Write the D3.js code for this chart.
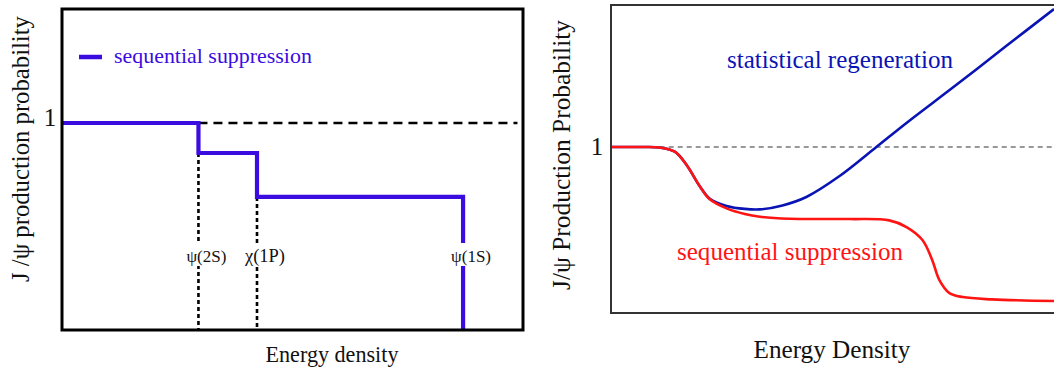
<!DOCTYPE html>
<html>
<head>
<meta charset="utf-8">
<script src="https://cdn.jsdelivr.net/npm/d3@7"></script>
<style>
  html, body { margin: 0; padding: 0; background: #fff; }
  svg { display: block; }
  text { font-family: "Liberation Serif", "Times New Roman", serif; }
</style>
</head>
<body>
<svg id="chart" width="1054" height="369"></svg>
<script>
// ---------- Left panel data (step model) ----------
const leftThresholds = [2.96, 4.23, 8.70];              // x positions of dissociation
const leftStateLabels = ["ψ(2S)", "χ(1P)", "ψ(1S)"];
const leftLevels = [1.0, 0.855, 0.643, 0.0];            // probability after each threshold
const leftYTick = [1];
const leftLegend = "sequential suppression";
const leftXTitle = "Energy density";
const leftYTitle = "J /ψ  production probability";

// ---------- Right panel data (smooth curves) ----------
const rightSeqX = [0, 0.65, 1.10, 1.44, 1.71, 2.00, 2.23, 2.61, 3.02, 3.36, 4.03, 5.38, 6.28, 6.67, 7.03, 7.25, 7.41, 7.64, 7.94, 8.60, 10.0];
const rightSeqY = [1.0, 1.0, 0.997, 0.972, 0.89, 0.765, 0.685, 0.630, 0.596, 0.580, 0.568, 0.566, 0.558, 0.518, 0.44, 0.32, 0.20, 0.12, 0.096, 0.082, 0.072];
const rightRegX = [0, 0.65, 1.10, 1.44, 1.71, 2.00, 2.23, 2.61, 3.02, 3.36, 3.87, 4.41, 5.16, 5.99, 6.67, 7.79, 8.92, 10.0];
const rightRegY = [1.0, 1.0, 0.997, 0.972, 0.89, 0.765, 0.688, 0.645, 0.627, 0.624, 0.648, 0.699, 0.825, 1.0, 1.145, 1.373, 1.608, 1.831];
const rightYTick = [1];
const rightRegLabel = "statistical regeneration";
const rightSeqLabel = "sequential suppression";
const rightXTitle = "Energy Density";
const rightYTitle = "J/ψ Production Probability";

const svg = d3.select("#chart");

// scale a text's font size so that its rendered width equals target
function fit(sel, target) {
  const s = +sel.attr("font-size");
  const w = sel.node().getComputedTextLength();
  sel.attr("font-size", (s * target / w).toFixed(2));
  return sel;
}

// ================= LEFT PANEL =================
const L = { x0: 62, x1: 523, y0: 9, y1: 330 };
const xL = d3.scaleLinear().domain([0, 10]).range([L.x0, L.x1]);
const yL = d3.scaleLinear().domain([0, 1]).range([L.y1, 123]);
const left = svg.append("g");

left.append("line")
  .attr("x1", xL(leftThresholds[0])).attr("x2", xL(9.88))
  .attr("y1", yL(1)).attr("y2", yL(1))
  .attr("stroke", "#000").attr("stroke-width", 2.6).attr("stroke-dasharray", "9,6");

leftThresholds.slice(0, 2).forEach((t, i) => {
  left.append("line")
    .attr("x1", xL(t)).attr("x2", xL(t))
    .attr("y1", yL(leftLevels[i + 1])).attr("y2", yL(0))
    .attr("stroke", "#000").attr("stroke-width", 2.6).attr("stroke-dasharray", "4,3");
});

const stepPts = [[0, leftLevels[0]]];
leftThresholds.forEach((t, i) => {
  stepPts.push([t, leftLevels[i]]);
  stepPts.push([t, leftLevels[i + 1]]);
});
left.append("path")
  .attr("d", d3.line().x(d => xL(d[0])).y(d => yL(d[1]))(stepPts))
  .attr("fill", "none").attr("stroke", "#3a0ce0").attr("stroke-width", 4.2)
  .attr("stroke-linejoin", "miter");

leftStateLabels.forEach((lab, i) => {
  const cx = xL(leftThresholds[i]) + 8;
  const g = left.append("g");
  const t = g.append("text").attr("x", cx).attr("y", 262)
    .attr("text-anchor", "middle").attr("font-size", 16).attr("fill", "#111").text(lab);
  fit(t, 40);
  const bb = t.node().getBBox();
  g.insert("rect", "text").attr("x", bb.x - 1).attr("y", 243).attr("width", bb.width + 2).attr("height", 23).attr("fill", "#fff");
});

left.append("rect").attr("x", L.x0).attr("y", L.y0).attr("width", L.x1 - L.x0).attr("height", L.y1 - L.y0)
  .attr("fill", "none").attr("stroke", "#000").attr("stroke-width", 3);

left.selectAll(".ytl").data(leftYTick).enter().append("text")
  .attr("x", 50).attr("y", d => yL(d) + 3).attr("text-anchor", "middle")
  .attr("font-size", 25).attr("fill", "#111").text(d => d);

left.append("line").attr("x1", 79).attr("x2", 102).attr("y1", 57).attr("y2", 57)
  .attr("stroke", "#3a0ce0").attr("stroke-width", 4.5);
fit(left.append("text").attr("x", 114).attr("y", 63).attr("font-size", 21).attr("fill", "#3a0ce0").text(leftLegend), 198);

fit(left.append("text").attr("x", 332).attr("y", 362).attr("text-anchor", "middle")
  .attr("font-size", 21).attr("fill", "#111").text(leftXTitle), 133);
fit(left.append("text").attr("transform", "translate(29,149) rotate(-90)").attr("text-anchor", "middle")
  .attr("font-size", 22).attr("fill", "#111").text(leftYTitle), 266);

// ================= RIGHT PANEL =================
const R = { x0: 611, x1: 1058, y0: 5, y1: 313 };
const xR = d3.scaleLinear().domain([0, 10]).range([R.x0, 1054]);
const yR = d3.scaleLinear().domain([0, 1]).range([R.y1, 147]);
const right = svg.append("g");

right.append("line").attr("x1", xR(1.10)).attr("x2", 1054).attr("y1", yR(1)).attr("y2", yR(1))
  .attr("stroke", "#777").attr("stroke-width", 1.3).attr("stroke-dasharray", "5,4");

const curve = d3.line().x(d => xR(d[0])).y(d => yR(d[1])).curve(d3.curveCatmullRom.alpha(0.5));
right.append("path").attr("d", curve(rightRegX.map((x, i) => [x, rightRegY[i]])))
  .attr("fill", "none").attr("stroke", "#0a14b4").attr("stroke-width", 2.6);
right.append("path").attr("d", curve(rightSeqX.map((x, i) => [x, rightSeqY[i]])))
  .attr("fill", "none").attr("stroke", "#ff1414").attr("stroke-width", 2.6);

right.append("rect").attr("x", R.x0).attr("y", R.y0).attr("width", R.x1 - R.x0).attr("height", R.y1 - R.y0)
  .attr("fill", "none").attr("stroke", "#333").attr("stroke-width", 2);

right.selectAll(".ytr").data(rightYTick).enter().append("text")
  .attr("x", 597).attr("y", d => yR(d) + 8).attr("text-anchor", "middle")
  .attr("font-size", 25).attr("fill", "#111").text(d => d);

fit(right.append("text").attr("x", 840).attr("y", 68).attr("text-anchor", "middle")
  .attr("font-size", 25).attr("fill", "#0a14b4").text(rightRegLabel), 226);
fit(right.append("text").attr("x", 790).attr("y", 260).attr("text-anchor", "middle")
  .attr("font-size", 25).attr("fill", "#ff1414").text(rightSeqLabel), 226);

fit(right.append("text").attr("x", 832).attr("y", 358).attr("text-anchor", "middle")
  .attr("font-size", 25).attr("fill", "#111").text(rightXTitle), 157);
fit(right.append("text").attr("transform", "translate(570,155) rotate(-90)").attr("text-anchor", "middle")
  .attr("font-size", 25).attr("fill", "#111").text(rightYTitle), 270);
</script>
</body>
</html>
